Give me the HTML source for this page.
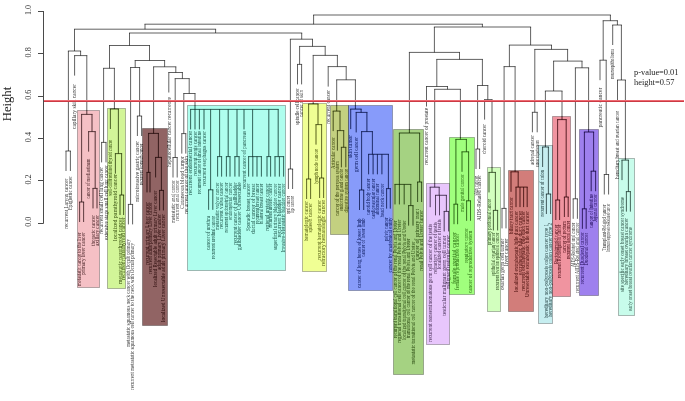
<!DOCTYPE html><html><head><meta charset="utf-8"><style>html,body{margin:0;padding:0;background:#fff;}svg{display:block;filter:blur(0.45px);}text{font-family:"Liberation Serif",serif;}</style></head><body>
<svg width="685" height="401" viewBox="0 0 685 401">
<rect x="0" y="0" width="685" height="401" fill="#fff"/>
<defs>
<path id="ln" d="M313.1 15H610.9M313.6 15V24.2M144.5 24.2H482.9M145 24.2V29.2M74 29.2H216.1M74.5 29.2V51M67.9 51H81.1M68.4 51V151M65.5 151H70.9M66 151V171M70.4 151V171M80.6 51V55.6M74.1 55.6H87.3M74.6 55.6V75.6M86.8 55.6V114.4M81.1 114.4H92.5M81.6 114.4V202M79.1 202H84.1M79.6 202V222M83.6 202V222M92 114.4V131.6M88.1 131.6H95.7M88.6 131.6V151.6M95.2 131.6V188.4M92.5 188.4H97.5M93 188.4V208.4M97 188.4V208.4M215.6 29.2V33M129 33H302.2M129.5 33V45.5M109 45.5H150M109.5 45.5V68.3M103.1 68.3H114.9M103.6 68.3V142.4M101.1 142.4H106.5M101.6 142.4V162.4M106 142.4V162.4M114.4 68.3V109M109.9 109H118.9M110.4 109V129M118.4 109V153.6M114.9 153.6H122.1M115.4 153.6V173.6M121.6 153.6V195M119.5 195H124.1M120 195V215M123.6 195V215M149.5 45.5V60.5M134.7 60.5H165.1M135.2 60.5V67.5M130.1 67.5H140.1M130.6 67.5V204.4M127.9 204.4H133.1M128.4 204.4V224.4M132.6 204.4V224.4M139.6 67.5V116M136.9 116H142.1M137.4 116V136M141.6 116V136M164.6 60.5V66.8M153.1 66.8H176.3M153.6 66.8V133.4M148.1 133.4H158.9M148.6 133.4V172.4M146.5 172.4H150.5M147 172.4V192.4M150 172.4V192.4M158.4 133.4V157.4M155.1 157.4H161.9M155.6 157.4V177.4M161.4 157.4V190.4M159.1 190.4H163.9M159.6 190.4V210.4M163.4 190.4V210.4M175.8 66.8V72.5M168.3 72.5H182.9M168.8 72.5V92.5M182.4 72.5V78.6M174.7 78.6H189.7M175.2 78.6V157.5M172.5 157.5H177.7M173 157.5V177.5M177.2 157.5V177.5M189.2 78.6V93.5M183.3 93.5H195.5M183.8 93.5V133.6M181.3 133.6H186.3M181.8 133.6V153.6M185.8 133.6V153.6M195 93.5V109.4M190.1 109.4H278.7M190.6 109.4V129.4M195 109.4V129.4M199.4 109.4V129.4M204 109.4V129.4M210.6 109.4V189.8M208.1 189.8H213.3M208.6 189.8V209.8M212.8 189.8V209.8M219.6 109.4V156.6M217.1 156.6H222.1M217.6 156.6V176.6M221.6 156.6V176.6M228.2 109.4V156.6M225.9 156.6H230.5M226.4 156.6V176.6M230 156.6V176.6M237 109.4V156.6M234.4 156.6H239.6M234.9 156.6V176.6M239.1 156.6V176.6M244 109.4V129.4M252.6 109.4V156.6M248.1 156.6H261.9M248.6 156.6V176.6M252.8 156.6V176.6M257 156.6V176.6M261.4 156.6V176.6M268.8 109.4V156.6M266.5 156.6H271.1M267 156.6V176.6M270.6 156.6V176.6M278.2 109.4V156.6M274.5 156.6H284.1M275 156.6V176.6M279.4 156.6V176.6M283.6 156.6V176.6M301.7 33V39.2M289.9 39.2H313M290.4 39.2V169M287.9 169H293.1M288.4 169V189M292.6 169V189M312.5 39.2V46.4M299.1 46.4H325.7M299.6 46.4V64.4M297 64.4H302.1M297.5 64.4V84.4M301.6 64.4V84.4M325.2 46.4V55.4M312.7 55.4H337.9M313.2 55.4V104M308.1 104H318.5M308.6 104V179M306.1 179H311.1M306.6 179V199M310.6 179V199M318 104V124.6M315.5 124.6H322.1M316 124.6V144.6M321.6 124.6V178M319.1 178H324.1M319.6 178V198M323.6 178V198M337.4 55.4V66.6M327.7 66.6H346.7M328.2 66.6V86.6M346.2 66.6V79.8M336.2 79.8H355.9M336.7 79.8V111.1M332.7 111.1H340.5M333.2 111.1V131.1M340 111.1V130.6M336.9 130.6H344.2M337.4 130.6V150.6M343.7 130.6V147.3M340.9 147.3H346.3M341.4 147.3V167.3M345.8 147.3V167.3M355.4 79.8V109.1M350.2 109.1H361.6M350.7 109.1V129.1M361.1 109.1V112.4M355.7 112.4H367.4M356.2 112.4V132.4M366.9 112.4V131.6M361.1 131.6H372.9M361.6 131.6V190M359 190H364.2M359.5 190V210M363.7 190V210M372.4 131.6V154.3M368.1 154.3H388.9M368.6 154.3V174.3M373.1 154.3V174.3M377.4 154.3V174.3M381.9 154.3V174.3M388.4 154.3V188.6M386.1 188.6H390.8M386.6 188.6V208.6M390.3 188.6V208.6M482.4 24.2V27M433.9 27H531.1M434.4 27V52.4M408.9 52.4H460M409.4 52.4V133M398.9 133H420.1M399.4 133V184.4M394.5 184.4H411.3M395 184.4V204.4M399.4 184.4V204.4M404.2 184.4V204.4M410.8 184.4V205.6M408.1 205.6H413.5M408.6 205.6V225.6M413 205.6V225.6M419.6 133V182M417.1 182H422.1M417.6 182V202M421.6 182V202M459.5 52.4V59.4M436.3 59.4H482.9M436.8 59.4V86.5M426 86.5H448M426.5 86.5V106.5M447.5 86.5V89.3M434.2 89.3H460.9M434.7 89.3V187.2M429.7 187.2H439.7M430.2 187.2V207.2M439.2 187.2V195.3M435 195.3H446.9M435.5 195.3V215.3M439.5 195.3V215.3M446.4 195.3V211.4M443.7 211.4H449.1M444.2 211.4V231.4M448.6 211.4V231.4M460.4 89.3V139.4M455.4 139.4H466.9M455.9 139.4V204.2M453.5 204.2H458.1M454 204.2V224.2M457.6 204.2V224.2M466.4 139.4V151.8M461.5 151.8H469.1M462 151.8V171.8M468.6 151.8V200.8M466.1 200.8H471M466.6 200.8V220.8M470.5 200.8V220.8M482.4 59.4V85.5M477.1 85.5H488.3M477.6 85.5V149M475.5 149H480.1M476 149V169M479.6 149V169M487.8 85.5V99.6M484.1 99.6H492.5M484.6 99.6V119.6M492 99.6V172.4M488.5 172.4H495.9M489 172.4V192.4M495.4 172.4V210.4M492.9 210.4H498.1M493.4 210.4V230.4M497.6 210.4V230.4M530.6 27V45.1M508.9 45.1H552M509.4 45.1V66.6M503.6 66.6H515.6M504.1 66.6V208.4M501.5 208.4H506.5M502 208.4V228.4M506 208.4V228.4M515.1 66.6V171.8M510.5 171.8H518.7M511 171.8V191.8M518.2 171.8V187.1M515.5 187.1H527.7M516 187.1V207.1M520 187.1V207.1M523.6 187.1V207.1M527.2 187.1V207.1M551.5 45.1V49.4M534.3 49.4H568.1M534.8 49.4V112.3M531.9 112.3H537.7M532.4 112.3V132.3M537.2 112.3V132.3M567.6 49.4V61.1M553.1 61.1H582.5M553.6 61.1V91M544.9 91H562.5M545.4 91V147M542.1 147H548.9M542.6 147V167M548.4 147V194M545.9 194H551.1M546.4 194V214M550.6 194V214M562 91V119.6M557.1 119.6H566.7M557.6 119.6V200M555.3 200H560.1M555.8 200V220M559.6 200V220M566.2 119.6V197M563.9 197H568.7M564.4 197V217M568.2 197V217M582 61.1V67.8M574.9 67.8H589.1M575.4 67.8V198.8M572.7 198.8H577.9M573.2 198.8V218.8M577.4 198.8V218.8M588.6 67.8V132M583.9 132H594.1M584.4 132V208.8M581.9 208.8H586.7M582.4 208.8V228.8M586.2 208.8V228.8M593.6 132V171.2M590.7 171.2H596.1M591.2 171.2V191.2M595.6 171.2V191.2M610.4 15V20.7M602.7 20.7H617.9M603.2 20.7V60.2M599.5 60.2H606.7M600 60.2V80.2M606.2 60.2V174.5M603.8 174.5H609.1M604.3 174.5V194.5M608.6 174.5V194.5M617.4 20.7V25M612.2 25H621.9M612.7 25V45M621.4 25V80M617 80H625.9M617.5 80V100M625.4 80V160.1M621.5 160.1H628.9M622 160.1V180.1M628.4 160.1V191.6M625.9 191.6H630.9M626.4 191.6V211.6M630.4 191.6V211.6"/>
<clipPath id="bx"><rect x="77" y="110" width="23" height="178"/><rect x="107" y="108" width="19" height="181"/><rect x="142" y="128" width="26" height="198"/><rect x="187" y="105" width="99" height="166"/><rect x="302" y="103" width="25" height="169"/><rect x="330" y="105" width="19" height="130"/><rect x="348" y="105" width="45" height="186"/><rect x="393" y="129" width="31" height="246"/><rect x="426" y="183" width="24" height="162"/><rect x="449" y="137" width="26" height="158"/><rect x="487" y="167" width="14" height="145"/><rect x="508" y="170" width="26" height="142"/><rect x="538" y="145" width="15" height="179"/><rect x="552" y="116" width="19" height="181"/><rect x="579" y="129" width="20" height="167"/><rect x="618" y="158" width="17" height="158"/></clipPath>
<g id="lb" font-size="5.2" text-anchor="end">
<text transform="translate(67.7 228.7) rotate(-90)" text-anchor="start" textLength="50" lengthAdjust="spacingAndGlyphs">recurrent Larynx cancer</text>
<text transform="translate(72.1 210) rotate(-90)" text-anchor="start" textLength="34" lengthAdjust="spacingAndGlyphs">Epiglottic cancer</text>
<text transform="translate(76.3 129) rotate(-90)" text-anchor="start" textLength="45" lengthAdjust="spacingAndGlyphs">capillary skin cancer</text>
<text transform="translate(81.3 286) rotate(-90)" text-anchor="start" textLength="53.5" lengthAdjust="spacingAndGlyphs">metastatic cancer to the liver</text>
<text transform="translate(85.3 275) rotate(-90)" text-anchor="start" textLength="42.5" lengthAdjust="spacingAndGlyphs">primary liver cancer</text>
<text transform="translate(90.3 198.7) rotate(-90)" text-anchor="start" textLength="40" lengthAdjust="spacingAndGlyphs">cancer of mediastinum</text>
<text transform="translate(94.7 246) rotate(-90)" text-anchor="start" textLength="31" lengthAdjust="spacingAndGlyphs">thoracic cancer</text>
<text transform="translate(98.7 246) rotate(-90)" text-anchor="start" textLength="31" lengthAdjust="spacingAndGlyphs">axillary cancer</text>
<text transform="translate(103.3 234) rotate(-90)" text-anchor="start" textLength="67" lengthAdjust="spacingAndGlyphs">recurrent small cell lung cancer</text>
<text transform="translate(107.7 240) rotate(-90)" text-anchor="start" textLength="75" lengthAdjust="spacingAndGlyphs">extensive stage small cell lung cancer</text>
<text transform="translate(112.1 196) rotate(-90)" text-anchor="start" textLength="56" lengthAdjust="spacingAndGlyphs">well-differentiated thyroid cancer</text>
<text transform="translate(117.1 241) rotate(-90)" text-anchor="start" textLength="67" lengthAdjust="spacingAndGlyphs">localized parathyroid cancer</text>
<text transform="translate(121.7 284) rotate(-90)" text-anchor="start" textLength="66.5" lengthAdjust="spacingAndGlyphs">metastatic parathyroid cancer</text>
<text transform="translate(125.3 280) rotate(-90)" text-anchor="start" textLength="62.5" lengthAdjust="spacingAndGlyphs">recurrent parathyroid cancer</text>
<text transform="translate(130.1 347) rotate(-90)" text-anchor="start" textLength="108" lengthAdjust="spacingAndGlyphs">metastatic squamous neck cancer with Occult primary</text>
<text transform="translate(134.3 390) rotate(-90)" text-anchor="start" textLength="147" lengthAdjust="spacingAndGlyphs">recurrent metastatic squamous cell cancer to the neck with Occult primary</text>
<text transform="translate(139.1 202) rotate(-90)" text-anchor="start" textLength="61" lengthAdjust="spacingAndGlyphs">microinvasive gastric cancer</text>
<text transform="translate(143.3 185) rotate(-90)" text-anchor="start" textLength="41.3" lengthAdjust="spacingAndGlyphs">recurrent stomach cancer</text>
<text transform="translate(148.7 265) rotate(-90)" text-anchor="start" textLength="63" lengthAdjust="spacingAndGlyphs">recurrent primary Liver cancer</text>
<text transform="translate(151.7 274) rotate(-90)" text-anchor="start" textLength="72" lengthAdjust="spacingAndGlyphs">recurrent adult primary Liver cancer</text>
<text transform="translate(157.3 287) rotate(-90)" text-anchor="start" textLength="96.3" lengthAdjust="spacingAndGlyphs">localized Resectable adult primary Liver cancer</text>
<text transform="translate(161.3 270) rotate(-90)" text-anchor="start" textLength="56" lengthAdjust="spacingAndGlyphs">adult primary Liver cancer</text>
<text transform="translate(165.1 322) rotate(-90)" text-anchor="start" textLength="108" lengthAdjust="spacingAndGlyphs">localized Unresectable adult primary Liver cancer</text>
<text transform="translate(170.5 167) rotate(-90)" text-anchor="start" textLength="70" lengthAdjust="spacingAndGlyphs">hepatocellular cancer recurrence</text>
<text transform="translate(174.7 223) rotate(-90)" text-anchor="start" textLength="43" lengthAdjust="spacingAndGlyphs">metastatic anal cancer</text>
<text transform="translate(178.9 221) rotate(-90)" text-anchor="start" textLength="41" lengthAdjust="spacingAndGlyphs">recurrent anal cancer</text>
<text transform="translate(183.5 209) rotate(-90)" text-anchor="start" textLength="53" lengthAdjust="spacingAndGlyphs">Cutaneous blood tumor</text>
<text transform="translate(187.5 214) rotate(-90)" text-anchor="start" textLength="58" lengthAdjust="spacingAndGlyphs">recurrent cancer of the skin</text>
<text transform="translate(192.3 195) rotate(-90)" text-anchor="start" textLength="64" lengthAdjust="spacingAndGlyphs">recurrent endometrial cancer</text>
<text transform="translate(196.7 176) rotate(-90)" text-anchor="start" textLength="45" lengthAdjust="spacingAndGlyphs">recurrent penis cancer</text>
<text transform="translate(201.1 194) rotate(-90)" text-anchor="start" textLength="63" lengthAdjust="spacingAndGlyphs">recurrent cancer of small intestine</text>
<text transform="translate(205.7 186) rotate(-90)" text-anchor="start" textLength="55" lengthAdjust="spacingAndGlyphs">recurrent esophagus cancer</text>
<text transform="translate(210.3 250) rotate(-90)" text-anchor="start" textLength="34" lengthAdjust="spacingAndGlyphs">cancer of urethra</text>
<text transform="translate(214.5 259) rotate(-90)" text-anchor="start" textLength="43" lengthAdjust="spacingAndGlyphs">recurrent urethral cancer</text>
<text transform="translate(219.3 230) rotate(-90)" text-anchor="start" textLength="47.5" lengthAdjust="spacingAndGlyphs">metastatic vulvar cancer</text>
<text transform="translate(223.3 229) rotate(-90)" text-anchor="start" textLength="46.5" lengthAdjust="spacingAndGlyphs">recurrent vulva cancer</text>
<text transform="translate(228.1 232.5) rotate(-90)" text-anchor="start" textLength="50" lengthAdjust="spacingAndGlyphs">recurrent endometrial cancer</text>
<text transform="translate(231.7 220) rotate(-90)" text-anchor="start" textLength="37.5" lengthAdjust="spacingAndGlyphs">endometrial cancer</text>
<text transform="translate(236.6 245) rotate(-90)" text-anchor="start" textLength="62.5" lengthAdjust="spacingAndGlyphs">recurrent cancer of gallbladder</text>
<text transform="translate(240.8 250) rotate(-90)" text-anchor="start" textLength="67.5" lengthAdjust="spacingAndGlyphs">gallbladder cancer Unresectable</text>
<text transform="translate(245.7 188.7) rotate(-90)" text-anchor="start" textLength="57.7" lengthAdjust="spacingAndGlyphs">recurrent cancer of pancreas</text>
<text transform="translate(250.3 231) rotate(-90)" text-anchor="start" textLength="47.3" lengthAdjust="spacingAndGlyphs">Sporadic breast cancer</text>
<text transform="translate(254.5 234) rotate(-90)" text-anchor="start" textLength="50.3" lengthAdjust="spacingAndGlyphs">ductal cancer of breast</text>
<text transform="translate(258.7 224) rotate(-90)" text-anchor="start" textLength="40.3" lengthAdjust="spacingAndGlyphs">recurrent breast cancer</text>
<text transform="translate(263.1 224) rotate(-90)" text-anchor="start" textLength="40.3" lengthAdjust="spacingAndGlyphs">bilateral breast cancer</text>
<text transform="translate(268.7 231) rotate(-90)" text-anchor="start" textLength="47.3" lengthAdjust="spacingAndGlyphs">regional ureteric cancer</text>
<text transform="translate(272.3 227.5) rotate(-90)" text-anchor="start" textLength="43.8" lengthAdjust="spacingAndGlyphs">recurrent ureteric cancer</text>
<text transform="translate(276.7 250) rotate(-90)" text-anchor="start" textLength="66.3" lengthAdjust="spacingAndGlyphs">superficial urinary bladder cancer</text>
<text transform="translate(281.1 237.5) rotate(-90)" text-anchor="start" textLength="53.8" lengthAdjust="spacingAndGlyphs">recurrent bladder cancer</text>
<text transform="translate(285.3 252.5) rotate(-90)" text-anchor="start" textLength="68.8" lengthAdjust="spacingAndGlyphs">Invasive-Metastatic bladder cancer</text>
<text transform="translate(290.1 214) rotate(-90)" text-anchor="start" textLength="18" lengthAdjust="spacingAndGlyphs">oral cancer</text>
<text transform="translate(294.3 213) rotate(-90)" text-anchor="start" textLength="17" lengthAdjust="spacingAndGlyphs">lip cancer</text>
<text transform="translate(299.2 125) rotate(-90)" text-anchor="start" textLength="37" lengthAdjust="spacingAndGlyphs">spindle cell cancer</text>
<text transform="translate(303.3 117) rotate(-90)" text-anchor="start" textLength="27" lengthAdjust="spacingAndGlyphs">cancer of skin</text>
<text transform="translate(308.3 241) rotate(-90)" text-anchor="start" textLength="40" lengthAdjust="spacingAndGlyphs">hematologic cancer</text>
<text transform="translate(312.3 232.5) rotate(-90)" text-anchor="start" textLength="29.5" lengthAdjust="spacingAndGlyphs">spleen cancer</text>
<text transform="translate(317.7 184) rotate(-90)" text-anchor="start" textLength="35" lengthAdjust="spacingAndGlyphs">lymph node cancer</text>
<text transform="translate(321.3 260) rotate(-90)" text-anchor="start" textLength="60" lengthAdjust="spacingAndGlyphs">recurrent hematologic cancer</text>
<text transform="translate(325.3 266) rotate(-90)" text-anchor="start" textLength="66" lengthAdjust="spacingAndGlyphs">refractory hematologic cancer</text>
<text transform="translate(329.9 123.7) rotate(-90)" text-anchor="start" textLength="33.7" lengthAdjust="spacingAndGlyphs">recurrent cancer</text>
<text transform="translate(334.9 169) rotate(-90)" text-anchor="start" textLength="32" lengthAdjust="spacingAndGlyphs">Articular cancer</text>
<text transform="translate(339.1 216) rotate(-90)" text-anchor="start" textLength="55" lengthAdjust="spacingAndGlyphs">cancer of the nervous system</text>
<text transform="translate(343.1 211) rotate(-90)" text-anchor="start" textLength="42" lengthAdjust="spacingAndGlyphs">endocrine gland cancer</text>
<text transform="translate(347.5 212.5) rotate(-90)" text-anchor="start" textLength="43.5" lengthAdjust="spacingAndGlyphs">digestive system cancer</text>
<text transform="translate(352.4 158) rotate(-90)" text-anchor="start" textLength="23" lengthAdjust="spacingAndGlyphs">skin tumor</text>
<text transform="translate(357.9 172) rotate(-90)" text-anchor="start" textLength="35" lengthAdjust="spacingAndGlyphs">germ cell cancer</text>
<text transform="translate(361.2 288) rotate(-90)" text-anchor="start" textLength="69.5" lengthAdjust="spacingAndGlyphs">cancer of long bones of lower limb</text>
<text transform="translate(365.4 256.7) rotate(-90)" text-anchor="start" textLength="38.2" lengthAdjust="spacingAndGlyphs">cancer of lower limb</text>
<text transform="translate(370.3 215) rotate(-90)" text-anchor="start" textLength="36.3" lengthAdjust="spacingAndGlyphs">carotid body cancer</text>
<text transform="translate(374.8 218.7) rotate(-90)" text-anchor="start" textLength="40" lengthAdjust="spacingAndGlyphs">cardiovascular cancer</text>
<text transform="translate(379.1 215) rotate(-90)" text-anchor="start" textLength="31.3" lengthAdjust="spacingAndGlyphs">abdominal cancer</text>
<text transform="translate(383.6 217.5) rotate(-90)" text-anchor="start" textLength="33.8" lengthAdjust="spacingAndGlyphs">head neck cancer</text>
<text transform="translate(388.3 241) rotate(-90)" text-anchor="start" textLength="23.6" lengthAdjust="spacingAndGlyphs">pelvic cancer</text>
<text transform="translate(392 272.4) rotate(-90)" text-anchor="start" textLength="55" lengthAdjust="spacingAndGlyphs">cancer by anatomical entity</text>
<text transform="translate(396.7 338) rotate(-90)" text-anchor="start" textLength="117.5" lengthAdjust="spacingAndGlyphs">recurrent transitional cell cancer of the renal Pelvis and Ureter</text>
<text transform="translate(401.1 343) rotate(-90)" text-anchor="start" textLength="123.3" lengthAdjust="spacingAndGlyphs">regional transitional cell cancer of the renal Pelvis and Ureter</text>
<text transform="translate(405.9 340) rotate(-90)" text-anchor="start" textLength="119.5" lengthAdjust="spacingAndGlyphs">localized transitional cell cancer of the renal Pelvis and Ureter</text>
<text transform="translate(410.3 338) rotate(-90)" text-anchor="start" textLength="99.5" lengthAdjust="spacingAndGlyphs">transitional cell cancer of the renal Pelvis and Ureter</text>
<text transform="translate(414.7 364.5) rotate(-90)" text-anchor="start" textLength="123" lengthAdjust="spacingAndGlyphs">metastatic transitional cell cancer of the renal Pelvis and Ureter</text>
<text transform="translate(419.3 260) rotate(-90)" text-anchor="start" textLength="51" lengthAdjust="spacingAndGlyphs">cancer of urinary tract</text>
<text transform="translate(423.3 271) rotate(-90)" text-anchor="start" textLength="61" lengthAdjust="spacingAndGlyphs">renal Pelvis and Ureter cancer</text>
<text transform="translate(428.2 165) rotate(-90)" text-anchor="start" textLength="57" lengthAdjust="spacingAndGlyphs">recurrent cancer of prostate</text>
<text transform="translate(431.9 342) rotate(-90)" text-anchor="start" textLength="118" lengthAdjust="spacingAndGlyphs">recurrent nonseminomatous germ cell cancer of the testis</text>
<text transform="translate(437.2 273.7) rotate(-90)" text-anchor="start" textLength="51.7" lengthAdjust="spacingAndGlyphs">refractory cancer of testis</text>
<text transform="translate(441.2 269.2) rotate(-90)" text-anchor="start" textLength="50" lengthAdjust="spacingAndGlyphs">localized cancer of testis</text>
<text transform="translate(445.9 315.8) rotate(-90)" text-anchor="start" textLength="80.1" lengthAdjust="spacingAndGlyphs">testicular malignant germ cell tumor</text>
<text transform="translate(450.3 289) rotate(-90)" text-anchor="start" textLength="54" lengthAdjust="spacingAndGlyphs">malignant testicular cancer</text>
<text transform="translate(455.7 284) rotate(-90)" text-anchor="start" textLength="52" lengthAdjust="spacingAndGlyphs">female genital cancer</text>
<text transform="translate(459.3 290) rotate(-90)" text-anchor="start" textLength="56.3" lengthAdjust="spacingAndGlyphs">female reproductive cancer</text>
<text transform="translate(463.7 212) rotate(-90)" text-anchor="start" textLength="38" lengthAdjust="spacingAndGlyphs">male genital cancer</text>
<text transform="translate(468.3 263) rotate(-90)" text-anchor="start" textLength="35" lengthAdjust="spacingAndGlyphs">respiratory cancer</text>
<text transform="translate(472.2 293) rotate(-90)" text-anchor="start" textLength="62.3" lengthAdjust="spacingAndGlyphs">cancer of reproductive system</text>
<text transform="translate(477.7 195.5) rotate(-90)" text-anchor="start" textLength="19.5" lengthAdjust="spacingAndGlyphs">skin cancer</text>
<text transform="translate(481.3 221) rotate(-90)" text-anchor="start" textLength="46" lengthAdjust="spacingAndGlyphs">AIDS-Related cancer</text>
<text transform="translate(486.3 154) rotate(-90)" text-anchor="start" textLength="30" lengthAdjust="spacingAndGlyphs">choroid cancer</text>
<text transform="translate(490.7 245) rotate(-90)" text-anchor="start" textLength="46" lengthAdjust="spacingAndGlyphs">primary peritoneal cancer</text>
<text transform="translate(495.1 276) rotate(-90)" text-anchor="start" textLength="43.5" lengthAdjust="spacingAndGlyphs">epithelial ovarian cancer</text>
<text transform="translate(499.3 290) rotate(-90)" text-anchor="start" textLength="57.5" lengthAdjust="spacingAndGlyphs">recurrent ovarian epithelial cancer</text>
<text transform="translate(503.7 290) rotate(-90)" text-anchor="start" textLength="51.3" lengthAdjust="spacingAndGlyphs">ovarian germ cell tumor</text>
<text transform="translate(507.7 266) rotate(-90)" text-anchor="start" textLength="27.3" lengthAdjust="spacingAndGlyphs">liver cancer</text>
<text transform="translate(512.7 234) rotate(-90)" text-anchor="start" textLength="37" lengthAdjust="spacingAndGlyphs">biliary tract cancer</text>
<text transform="translate(517.7 292) rotate(-90)" text-anchor="start" textLength="81" lengthAdjust="spacingAndGlyphs">localized extrahepatic bile duct cancer</text>
<text transform="translate(521.7 275) rotate(-90)" text-anchor="start" textLength="64" lengthAdjust="spacingAndGlyphs">extrahepatic bile duct cancer</text>
<text transform="translate(525.3 291) rotate(-90)" text-anchor="start" textLength="80" lengthAdjust="spacingAndGlyphs">recurrent extrahepatic bile duct cancer</text>
<text transform="translate(528.9 297) rotate(-90)" text-anchor="start" textLength="86" lengthAdjust="spacingAndGlyphs">Unresectable extrahepatic bile duct cancer</text>
<text transform="translate(534.1 165) rotate(-90)" text-anchor="start" textLength="30" lengthAdjust="spacingAndGlyphs">adrenal cancer</text>
<text transform="translate(538.9 167) rotate(-90)" text-anchor="start" textLength="27" lengthAdjust="spacingAndGlyphs">cancer of peritoneum</text>
<text transform="translate(544.3 216.4) rotate(-90)" text-anchor="start" textLength="46.4" lengthAdjust="spacingAndGlyphs">recurrent cancer of colon</text>
<text transform="translate(548.1 318) rotate(-90)" text-anchor="start" textLength="94" lengthAdjust="spacingAndGlyphs">hereditary non-polyposis colon cancer type 1</text>
<text transform="translate(552.3 317) rotate(-90)" text-anchor="start" textLength="94" lengthAdjust="spacingAndGlyphs">hereditary non-polyposis colon cancer type 2</text>
<text transform="translate(557.5 264) rotate(-90)" text-anchor="start" textLength="39.3" lengthAdjust="spacingAndGlyphs">Rectosigmoid cancer</text>
<text transform="translate(561.3 278) rotate(-90)" text-anchor="start" textLength="53.3" lengthAdjust="spacingAndGlyphs">recurrent Rectosigmoid cancer</text>
<text transform="translate(566.1 253) rotate(-90)" text-anchor="start" textLength="32" lengthAdjust="spacingAndGlyphs">cancer of rectum</text>
<text transform="translate(569.9 259) rotate(-90)" text-anchor="start" textLength="38" lengthAdjust="spacingAndGlyphs">recurrent Rectal cancer</text>
<text transform="translate(574.9 267) rotate(-90)" text-anchor="start" textLength="44.3" lengthAdjust="spacingAndGlyphs">AIDS-Related anal cancer</text>
<text transform="translate(579.1 293) rotate(-90)" text-anchor="start" textLength="70.3" lengthAdjust="spacingAndGlyphs">recurrent AIDS-Related anal cancer</text>
<text transform="translate(584.1 284.2) rotate(-90)" text-anchor="start" textLength="52.2" lengthAdjust="spacingAndGlyphs">recurrent Duodenal cancer</text>
<text transform="translate(587.9 265.5) rotate(-90)" text-anchor="start" textLength="32.5" lengthAdjust="spacingAndGlyphs">Duodenal cancer</text>
<text transform="translate(592.9 228) rotate(-90)" text-anchor="start" textLength="34" lengthAdjust="spacingAndGlyphs">cancer of Intestine</text>
<text transform="translate(597.3 222) rotate(-90)" text-anchor="start" textLength="28" lengthAdjust="spacingAndGlyphs">Jejunal cancer</text>
<text transform="translate(601.7 127.5) rotate(-90)" text-anchor="start" textLength="40" lengthAdjust="spacingAndGlyphs">pancreatic cancer</text>
<text transform="translate(606 250.8) rotate(-90)" text-anchor="start" textLength="46.2" lengthAdjust="spacingAndGlyphs">Transplant-Related cancer</text>
<text transform="translate(610.3 251.7) rotate(-90)" text-anchor="start" textLength="48" lengthAdjust="spacingAndGlyphs">Immunosuppression-Related cancer</text>
<text transform="translate(614.4 78.8) rotate(-90)" text-anchor="start" textLength="30" lengthAdjust="spacingAndGlyphs">neuroepithelioma</text>
<text transform="translate(619.2 178.7) rotate(-90)" text-anchor="start" textLength="67.7" lengthAdjust="spacingAndGlyphs">hereditary breast and ovarian cancer</text>
<text transform="translate(623.7 292) rotate(-90)" text-anchor="start" textLength="95" lengthAdjust="spacingAndGlyphs">site specific early onset breast cancer syndrome</text>
<text transform="translate(628.1 285) rotate(-90)" text-anchor="start" textLength="67" lengthAdjust="spacingAndGlyphs">hereditary breast ovarian cancer</text>
<text transform="translate(632.1 311) rotate(-90)" text-anchor="start" textLength="84" lengthAdjust="spacingAndGlyphs">early onset breast ovarian cancer syndrome</text>
</g>
</defs>
<use href="#ln" stroke="rgba(0,0,0,0.62)" stroke-width="1" fill="none"/>
<use href="#lb" fill="rgba(0,0,0,0.82)"/>
<rect x="77.5" y="110.5" width="22" height="177" fill="rgb(231,105,117)" fill-opacity="0.420" stroke="rgba(0,0,0,0.28)" stroke-width="1"/>
<rect x="107.5" y="108.5" width="18" height="180" fill="rgb(154,232,23)" fill-opacity="0.444" stroke="rgba(0,0,0,0.28)" stroke-width="1"/>
<rect x="142.5" y="128.5" width="25" height="197" fill="rgb(85,16,16)" fill-opacity="0.648" stroke="rgba(0,0,0,0.28)" stroke-width="1"/>
<rect x="187.5" y="105.5" width="98" height="165" fill="rgb(65,253,215)" fill-opacity="0.420" stroke="rgba(0,0,0,0.28)" stroke-width="1"/>
<rect x="302.5" y="103.5" width="24" height="168" fill="rgb(222,255,22)" fill-opacity="0.460" stroke="rgba(0,0,0,0.28)" stroke-width="1"/>
<rect x="330.5" y="105.5" width="18" height="129" fill="rgb(143,168,19)" fill-opacity="0.538" stroke="rgba(0,0,0,0.28)" stroke-width="1"/>
<rect x="348.5" y="105.5" width="44" height="185" fill="rgb(20,59,245)" fill-opacity="0.511" stroke="rgba(0,0,0,0.28)" stroke-width="1"/>
<rect x="393.5" y="129.5" width="30" height="245" fill="rgb(85,170,19)" fill-opacity="0.530" stroke="rgba(0,0,0,0.28)" stroke-width="1"/>
<rect x="426.5" y="183.5" width="23" height="161" fill="rgb(200,119,248)" fill-opacity="0.420" stroke="rgba(0,0,0,0.28)" stroke-width="1"/>
<rect x="449.5" y="137.5" width="25" height="157" fill="rgb(82,255,19)" fill-opacity="0.550" stroke="rgba(0,0,0,0.28)" stroke-width="1"/>
<rect x="487.5" y="167.5" width="13" height="144" fill="rgb(148,255,100)" fill-opacity="0.420" stroke="rgba(0,0,0,0.28)" stroke-width="1"/>
<rect x="508.5" y="170.5" width="25" height="141" fill="rgb(175,24,18)" fill-opacity="0.562" stroke="rgba(0,0,0,0.28)" stroke-width="1"/>
<rect x="538.5" y="145.5" width="14" height="178" fill="rgb(119,215,219)" fill-opacity="0.420" stroke="rgba(0,0,0,0.28)" stroke-width="1"/>
<rect x="552.5" y="116.5" width="18" height="180" fill="rgb(222,22,48)" fill-opacity="0.460" stroke="rgba(0,0,0,0.28)" stroke-width="1"/>
<rect x="579.5" y="129.5" width="19" height="166" fill="rgb(75,19,223)" fill-opacity="0.538" stroke="rgba(0,0,0,0.28)" stroke-width="1"/>
<rect x="618.5" y="158.5" width="16" height="157" fill="rgb(124,248,207)" fill-opacity="0.420" stroke="rgba(0,0,0,0.28)" stroke-width="1"/>
<g clip-path="url(#bx)"><use href="#ln" stroke="rgba(0,0,0,0.35)" stroke-width="1" fill="none"/><use href="#lb" fill="rgba(0,0,0,0.3)"/></g>
<g stroke="#4a4a4a" stroke-width="1" fill="none">
<path d="M43.5 11 V223.5"/>
<path d="M38 11.5 H43.5"/>
<path d="M38 53.5 H43.5"/>
<path d="M38 96.5 H43.5"/>
<path d="M38 138.5 H43.5"/>
<path d="M38 180.5 H43.5"/>
<path d="M38 223.5 H43.5"/>
</g>
<g font-size="8.2" fill="#333" text-anchor="middle">
<text transform="translate(31.3 10) rotate(-90)">1.0</text>
<text transform="translate(31.3 52.3) rotate(-90)">0.8</text>
<text transform="translate(31.3 94.7) rotate(-90)">0.6</text>
<text transform="translate(31.3 137.1) rotate(-90)">0.4</text>
<text transform="translate(31.3 179.5) rotate(-90)">0.2</text>
<text transform="translate(31.3 221.7) rotate(-90)">0.0</text>
</g>
<text transform="translate(11 104) rotate(-90)" font-size="12.6" fill="#222" text-anchor="middle">Height</text>
<rect x="44" y="100" width="640" height="1" fill="#ee6a72"/>
<rect x="44" y="101" width="640" height="1" fill="#cc3a44"/>
<g font-size="8.4" fill="#222"><text x="634" y="75">p-value=0.01</text><text x="634" y="84.8">height=0.57</text></g>
</svg></body></html>
